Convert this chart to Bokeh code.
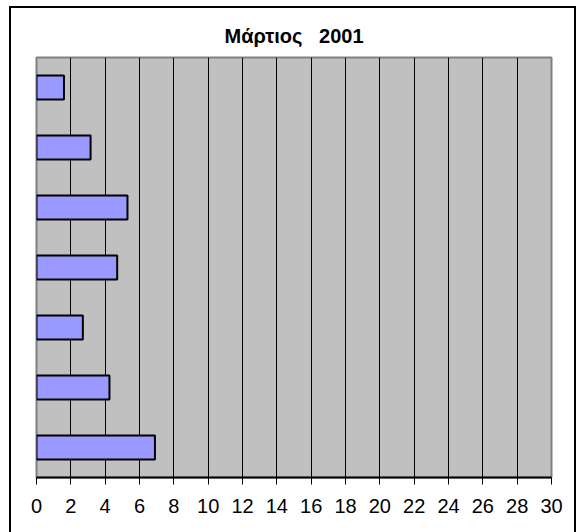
from bokeh.plotting import figure
from bokeh.models import FixedTicker, Range1d, FactorRange
from bokeh.embed import file_html
from bokeh.resources import INLINE

# data (top to bottom)
categories = ["1", "2", "3", "4", "5", "6", "7"]
values = [1.6, 3.15, 5.3, 4.7, 2.7, 4.25, 6.9]
x_ticks = list(range(0, 31, 2))
title_text = "Μάρτιος \u00a0 2001"

p = figure(width=577, height=532, output_backend="svg", toolbar_location=None,
           y_range=FactorRange(factors=list(reversed(categories)), range_padding=0),
           x_range=Range1d(0, 30),
           min_border_left=36, min_border_right=26, min_border_top=57, min_border_bottom=55)

p.title.text = title_text
p.title.align = "center"
p.title.text_font = "Liberation Sans"
p.title.text_font_size = "20px"
p.title.text_font_style = "bold"
p.title.text_color = "black"
p.title.standoff = 21

p.background_fill_color = "#C0C0C0"
p.border_fill_color = None
p.outline_line_color = "#808080"
p.outline_line_width = 2

p.hbar(y=categories, right=values, left=0, height=0.4,
       fill_color="#9999FF", line_color="black", line_width=2)

p.xaxis.ticker = FixedTicker(ticks=x_ticks)
p.xaxis.axis_line_color = "black"
p.xaxis.axis_line_width = 2
p.xaxis.major_tick_line_color = "black"
p.xaxis.major_tick_out = 7
p.xaxis.major_tick_in = 0
p.xaxis.minor_tick_line_color = None
p.xaxis.major_label_text_font = "Liberation Sans"
p.xaxis.major_label_text_font_size = "20px"
p.xaxis.major_label_text_color = "black"
p.xaxis.major_label_standoff = 14

p.yaxis.visible = False
p.xgrid.grid_line_color = "black"
p.xgrid.grid_line_width = 1
p.ygrid.grid_line_color = None

# outer chart-area border (left, top, right) drawn as host background
line = "linear-gradient(#000, #000)"
p.styles = {
    "background": (f"{line} 9px 6px / 2px 600px no-repeat, "
                   f"{line} 9px 6px / 567px 2px no-repeat, "
                   f"{line} 574px 6px / 2px 600px no-repeat, white"),
}

open("out.html", "w").write(file_html(p, INLINE))
